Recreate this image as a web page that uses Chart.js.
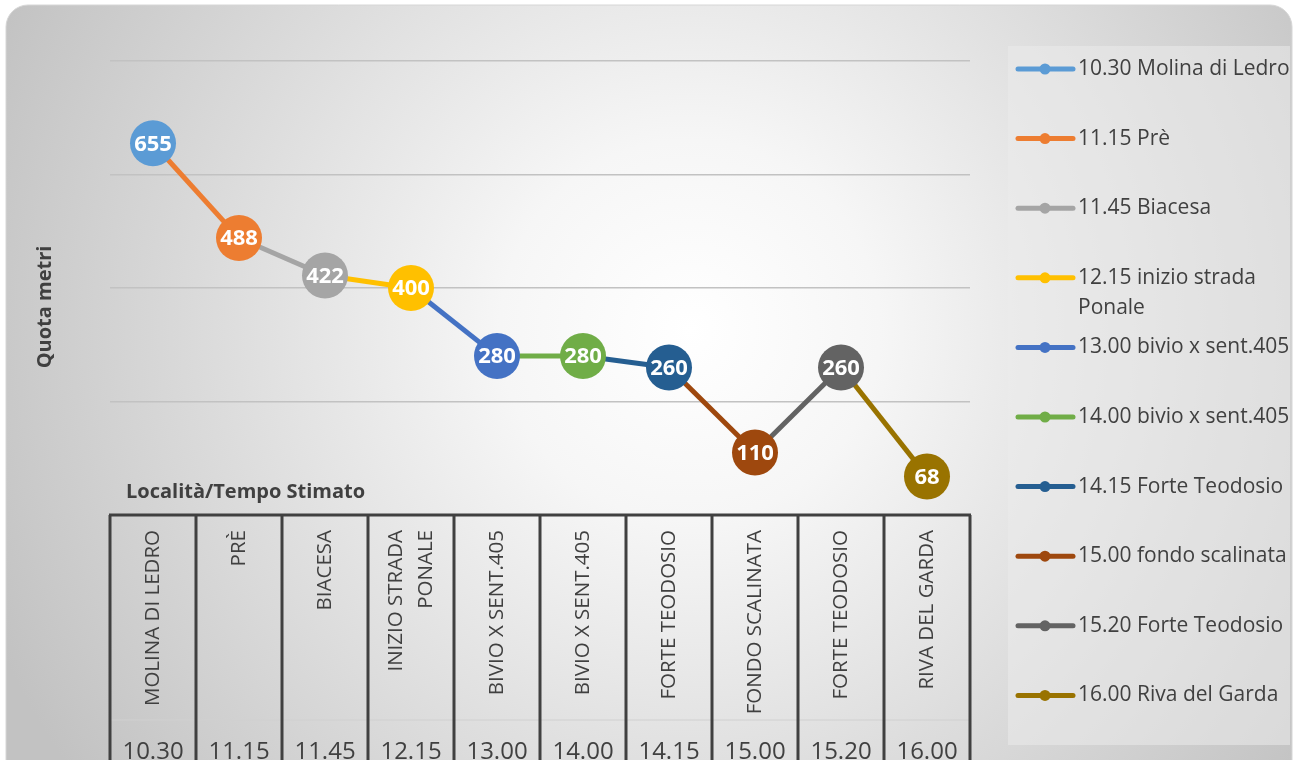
<!DOCTYPE html>
<html lang="it">
<head>
<meta charset="UTF-8" />
<title>Quota metri – Località/Tempo Stimato</title>
<style>
  body{margin:0;background:#fff;}
  .wrap{width:1299px;height:760px;position:relative;}
  canvas{display:block;}
</style>
<script src="https://cdn.jsdelivr.net/npm/chart.js@4.4.0/dist/chart.umd.min.js"></script>
</head>
<body>
<div class="wrap"><canvas id="quota"></canvas></div>
<script>
// ===== dati =====
const localita = ['MOLINA DI LEDRO','PRÈ','BIACESA',['INIZIO STRADA','PONALE'],'BIVIO X SENT.405','BIVIO X SENT.405','FORTE TEODOSIO','FONDO SCALINATA','FORTE TEODOSIO','RIVA DEL GARDA'];
const orari = ['10.30','11.15','11.45','12.15','13.00','14.00','14.15','15.00','15.20','16.00'];
const quote = [655,488,422,400,280,280,260,110,260,68];
const legenda = ['10.30 Molina di Ledro','11.15 Prè','11.45 Biacesa',['12.15 inizio strada','Ponale'],'13.00 bivio x sent.405','14.00 bivio x sent.405','14.15 Forte Teodosio','15.00 fondo scalinata','15.20 Forte Teodosio','16.00 Riva del Garda'];
const yMin = 0, yMax = 800, yStep = 200;

// ===== colori (stile Office) =====
const colori = ['#5B9BD5','#ED7D31','#A5A5A5','#FFC000','#4472C4','#70AD47','#255E91','#9E480E','#636363','#997300'];
const testo = '#404040';
const FONT = '"Open Sans", "Noto Sans", sans-serif';

// sfondo arrotondato con sfumatura radiale
const sfondo = {
  id:'sfondo',
  beforeDraw(chart){
    const c = chart.ctx;
    c.save();
    c.fillStyle = '#fff';
    c.fillRect(0,0,chart.width,chart.height);
    const x=6,y=5,w=1286,h=800,r=22;
    c.beginPath();
    c.moveTo(x+r,y);
    c.arcTo(x+w,y,x+w,y+h,r);
    c.arcTo(x+w,y+h,x,y+h,r);
    c.arcTo(x,y+h,x,y,r);
    c.arcTo(x,y,x+w,y,r);
    c.closePath();
    const g = c.createRadialGradient(690,330,0,690,330,760);
    g.addColorStop(0,'#ffffff');
    g.addColorStop(0.25,'#f6f6f6');
    g.addColorStop(1,'#c2c2c2');
    c.fillStyle = g;
    c.fill();
    c.strokeStyle = '#d6d6d6';
    c.lineWidth = 1;
    c.stroke();
    c.restore();
  }
};

// tabella sotto l'asse x, titoli e legenda
const tabella = {
  id:'tabella',
  afterDraw(chart){
    const c = chart.ctx, xs = chart.scales.x, area = chart.chartArea;
    const passo = xs.getPixelForValue(1) - xs.getPixelForValue(0);
    const top = area.bottom, sinistra = area.left, destra = area.right;
    c.save();
    // riga separatrice orari
    c.strokeStyle = '#d0d0d0'; c.lineWidth = 1;
    c.beginPath(); c.moveTo(sinistra, top+205); c.lineTo(destra, top+205); c.stroke();
    // bordi
    c.strokeStyle = testo; c.lineWidth = 3;
    c.beginPath(); c.moveTo(sinistra-1, top); c.lineTo(destra+1, top);
    for(let i=0;i<=localita.length;i++){
      const bx = xs.getPixelForValue(0) - passo/2 + i*passo;
      c.moveTo(bx, top); c.lineTo(bx, chart.height);
    }
    c.stroke();
    // etichette ruotate
    c.fillStyle = testo;
    c.font = '20.5px '+FONT;
    localita.forEach((lab,i)=>{
      const cx = xs.getPixelForValue(i);
      const righe = Array.isArray(lab) ? lab : [lab];
      c.save();
      c.translate(cx, top+15);
      c.rotate(-Math.PI/2);
      c.textAlign = 'right';
      c.textBaseline = 'middle';
      righe.forEach((t,k)=>{
        c.fillText(t, 0, (k-(righe.length-1)/2)*30);
      });
      c.restore();
    });
    // orari
    c.font = '24px '+FONT;
    c.textAlign = 'center'; c.textBaseline = 'top';
    orari.forEach((t,i)=>c.fillText(t, xs.getPixelForValue(i), top+225));
    // titoli
    c.font = 'bold 20px '+FONT;
    c.textAlign = 'left'; c.textBaseline = 'middle';
    c.fillText('Località/Tempo Stimato', sinistra+16, top-23);
    c.save();
    c.translate(45, 307);
    c.rotate(-Math.PI/2);
    c.textAlign = 'center';
    c.fillText('Quota metri', 0, 0);
    c.restore();
    // legenda
    const lx = 1008, ly = 46;
    c.fillStyle = 'rgba(235,235,235,0.55)';
    c.fillRect(lx, ly, 282, 699);
    c.font = '21px '+FONT;
    c.textBaseline = 'middle'; c.textAlign = 'left';
    legenda.forEach((lab,i)=>{
      const ry = 69 + i*69.6;
      c.strokeStyle = colori[i]; c.fillStyle = colori[i];
      c.lineWidth = 5; c.lineCap = 'round';
      c.beginPath(); c.moveTo(lx+10, ry); c.lineTo(lx+65, ry); c.stroke();
      c.beginPath(); c.arc(lx+37, ry, 5.5, 0, Math.PI*2); c.fill();
      c.fillStyle = testo;
      const righe = Array.isArray(lab) ? lab : [lab];
      righe.forEach((t,k)=>c.fillText(t, lx+70, ry+k*30));
    });
    c.restore();
  }
};

// etichette dei valori dentro i punti
const valori = {
  id:'valori',
  afterDatasetsDraw(chart){
    const c = chart.ctx, meta = chart.getDatasetMeta(0);
    c.save();
    c.fillStyle = '#fff';
    c.font = 'bold 22px '+FONT;
    c.textAlign = 'center'; c.textBaseline = 'middle';
    meta.data.forEach((p,i)=>c.fillText(String(quote[i]), p.x, p.y+1));
    c.restore();
  }
};

new Chart(document.getElementById('quota'),{
  type:'line',
  data:{
    labels:orari,
    datasets:[{
      data:quote,
      borderWidth:5,
      borderColor:colori[0],
      segment:{borderColor:ctx=>colori[ctx.p1DataIndex]},
      pointRadius:23,
      pointBorderWidth:0,
      pointBackgroundColor:colori,
      pointHoverRadius:23,
      tension:0
    }]
  },
  options:{
    responsive:true,
    maintainAspectRatio:false,
    animation:false,
    events:[],
    layout:{padding:{left:110,right:329,top:61,bottom:245}},
    plugins:{legend:{display:false},tooltip:{enabled:false}},
    scales:{
      x:{type:'category',offset:true,display:false},
      y:{
        min:yMin,max:yMax,
        ticks:{display:false,stepSize:yStep},
        border:{display:false},
        grid:{color:'#c2c2c2',lineWidth:1.5,drawTicks:false}
      }
    }
  },
  plugins:[sfondo,tabella,valori]
});
</script>
</body>
</html>
